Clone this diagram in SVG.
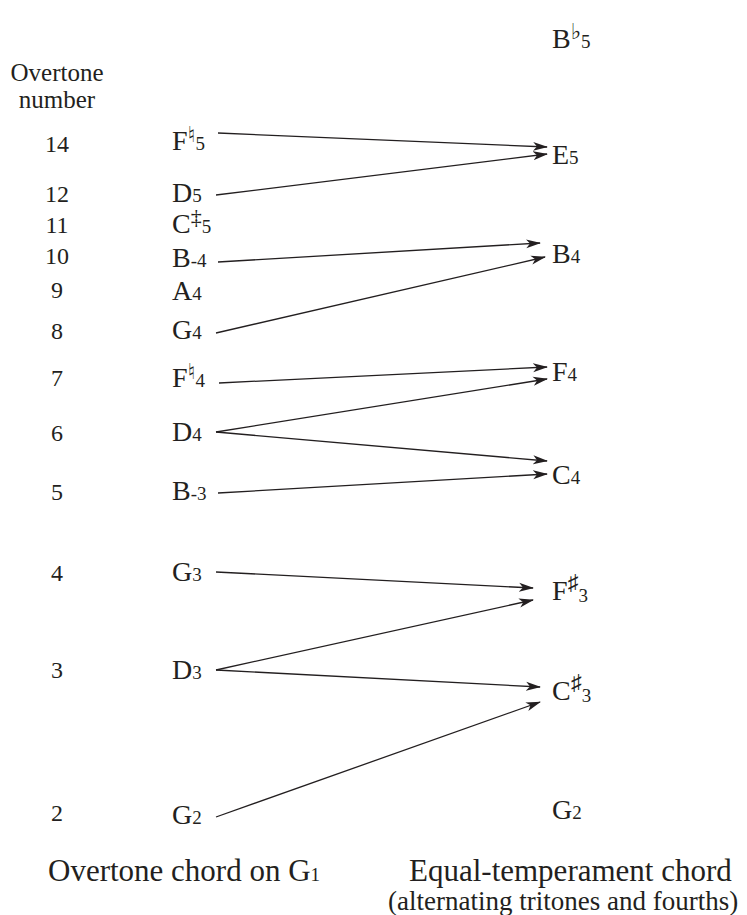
<svg xmlns="http://www.w3.org/2000/svg" width="747" height="915" viewBox="0 0 747 915" font-family="'Liberation Serif', 'Times New Roman', Times, serif">
<defs>
<style>
text{font-family:"Liberation Serif","Times New Roman",Times,"DejaVu Serif",serif;fill:#231f20}
.n{font-size:24px;text-anchor:middle}
.h{font-size:25px;text-anchor:middle}
.note{font-size:28px}
.sub{font-size:19px}
.acc{font-size:22px}
.nat{font-size:22px;font-family:"DejaVu Sans",sans-serif}
.dag{font-size:22px}
.cap{font-size:31px}
.cap2{font-size:27px}
.c line{stroke:#231f20;stroke-width:1.3;fill:none;marker-end:url(#ah)}
</style>
<marker id="ah" viewBox="0 0 15 10" refX="14" refY="5" markerWidth="15" markerHeight="10" markerUnits="userSpaceOnUse" orient="auto">
<path d="M0,0.5 L15,5 L0,9.5 L4,5 Z" fill="#231f20"/>
</marker>
</defs>
<g id="header"><text class="h" x="57" y="81">Overtone</text><text class="h" x="57" y="108">number</text></g>
<g id="numbers">
<text class="n" x="57" y="152">14</text>
<text class="n" x="57" y="202">12</text>
<text class="n" x="57" y="233">11</text>
<text class="n" x="57" y="264">10</text>
<text class="n" x="57" y="298">9</text>
<text class="n" x="57" y="339">8</text>
<text class="n" x="57" y="386">7</text>
<text class="n" x="57" y="441">6</text>
<text class="n" x="57" y="500">5</text>
<text class="n" x="57" y="581">4</text>
<text class="n" x="57" y="678">3</text>
<text class="n" x="57" y="821">2</text>
</g>
<g id="F5o"><text class="note" x="172" y="150">F<tspan class="nat" dy="-8">♮</tspan><tspan class="sub" dy="8">5</tspan></text></g>
<g id="D5o"><text class="note" x="172" y="202">D<tspan class="sub">5</tspan></text></g>
<g id="C5o"><text class="note" x="172" y="233">C<tspan class="dag" dy="-9">‡</tspan><tspan class="sub" dy="9">5</tspan></text></g>
<g id="B4o"><text class="note" x="172" y="267">B<tspan class="sub">-4</tspan></text></g>
<g id="A4o"><text class="note" x="172" y="300">A<tspan class="sub">4</tspan></text></g>
<g id="G4o"><text class="note" x="172" y="339">G<tspan class="sub">4</tspan></text></g>
<g id="F4o"><text class="note" x="172" y="387">F<tspan class="nat" dy="-8">♮</tspan><tspan class="sub" dy="8">4</tspan></text></g>
<g id="D4o"><text class="note" x="172" y="441">D<tspan class="sub">4</tspan></text></g>
<g id="B3o"><text class="note" x="172" y="500">B<tspan class="sub">-3</tspan></text></g>
<g id="G3o"><text class="note" x="172" y="581">G<tspan class="sub">3</tspan></text></g>
<g id="D3o"><text class="note" x="172" y="679">D<tspan class="sub">3</tspan></text></g>
<g id="G2o"><text class="note" x="172" y="824">G<tspan class="sub">2</tspan></text></g>
<g id="Bb5e"><text class="note" x="552" y="48">B<tspan class="nat" dy="-9">♭</tspan><tspan class="sub" dy="9">5</tspan></text></g>
<g id="E5e"><text class="note" x="552" y="164">E<tspan class="sub">5</tspan></text></g>
<g id="B4e"><text class="note" x="552" y="263">B<tspan class="sub">4</tspan></text></g>
<g id="F4e"><text class="note" x="552" y="381">F<tspan class="sub">4</tspan></text></g>
<g id="C4e"><text class="note" x="552" y="484">C<tspan class="sub">4</tspan></text></g>
<g id="Fs3e"><text class="note" x="552" y="600">F<tspan class="acc" dy="-10">♯</tspan><tspan class="sub" dy="12">3</tspan></text></g>
<g id="Cs3e"><text class="note" x="552" y="700">C<tspan class="acc" dy="-10">♯</tspan><tspan class="sub" dy="12">3</tspan></text></g>
<g id="G2e"><text class="note" x="552" y="819">G<tspan class="sub">2</tspan></text></g>
<g class="c" id="connectors">
<line x1="218" y1="133" x2="547" y2="147"/>
<line x1="216" y1="195" x2="547" y2="154"/>
<line x1="218" y1="262" x2="540" y2="243"/>
<line x1="216" y1="333" x2="545" y2="257"/>
<line x1="219" y1="383" x2="547" y2="367"/>
<line x1="216" y1="432" x2="547" y2="379"/>
<line x1="216" y1="432" x2="547" y2="461"/>
<line x1="218" y1="493" x2="547" y2="474"/>
<line x1="216" y1="572" x2="533" y2="588"/>
<line x1="216" y1="670" x2="533" y2="600"/>
<line x1="216" y1="670" x2="540" y2="687"/>
<line x1="216" y1="817" x2="540" y2="702"/>
</g>
<g id="captions">
<text class="cap" x="48" y="881">Overtone chord on G<tspan class="sub">1</tspan></text>
<text class="cap" x="409" y="881">Equal-temperament chord</text>
<text class="cap2" x="388" y="910">(alternating tritones and fourths)</text>
</g>
</svg>
